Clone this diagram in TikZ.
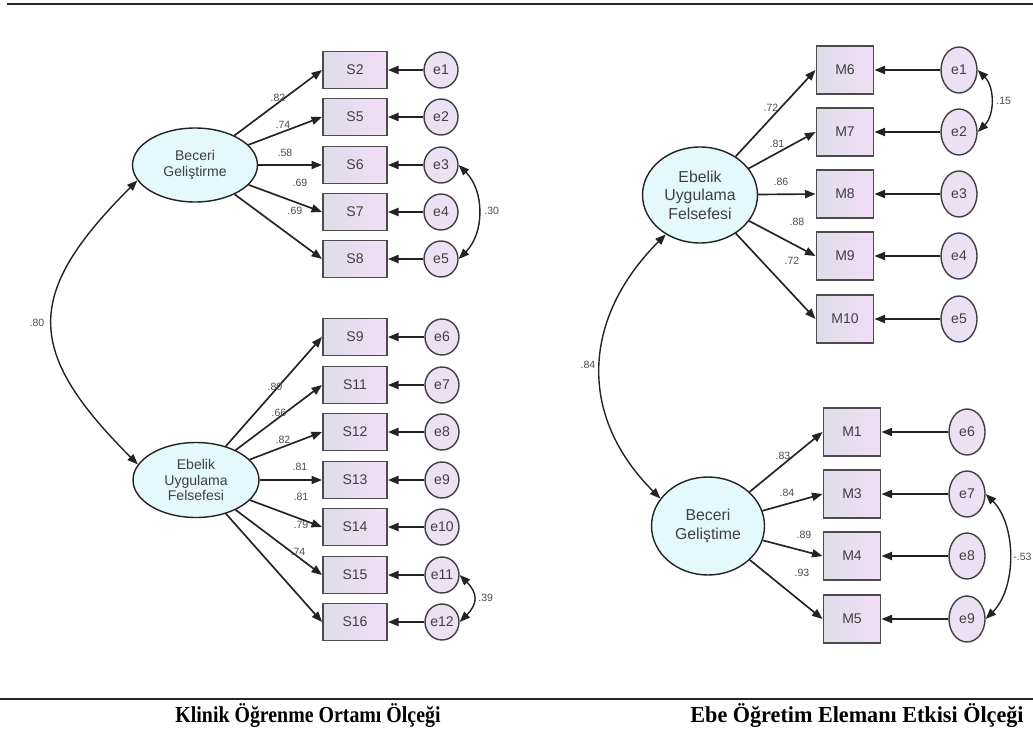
\documentclass[tikz,border=0pt]{standalone}
\usepackage{fontspec}
\setmainfont{Liberation Serif}
\setsansfont{Liberation Sans}
\usetikzlibrary{arrows.meta, shapes.geometric}

\definecolor{latentfill}{RGB}{228,249,252}
\definecolor{boxleft}{RGB}{222,221,232}
\definecolor{boxright}{RGB}{242,222,246}
\definecolor{errfill}{RGB}{236,224,243}
\definecolor{ink}{RGB}{35,35,35}

\begin{document}
\begin{tikzpicture}[
  x = 0.02cm, y = -0.02cm,
  >={Triangle[length = 6pt, width = 4.6pt]},
  latent/.style = {
    shape = ellipse,
    draw = ink,
    thick,
    fill = latentfill,
    inner sep = 0pt,
    align = center,
    font = \sffamily\fontsize{8}{9}\selectfont,
    text = black!75,
  },
  item/.style = {
    shape = rectangle,
    draw = black!70,
    line width = 1.1pt,
    left color = boxleft,
    right color = boxright,
    inner sep = 0pt,
    font = \sffamily\fontsize{8}{9}\selectfont,
    text = black!75,
  },
  err/.style = {
    shape = ellipse,
    draw = black!75,
    thick,
    fill = errfill,
    inner sep = 0pt,
    font = \sffamily\fontsize{8}{9}\selectfont,
    text = black!75,
  },
  coef/.style = {
    font = \sffamily\fontsize{6}{7}\selectfont,
    text = black!70,
    inner sep = 0pt,
  },
  caption/.style = {
    font = \bfseries\fontsize{13}{15}\selectfont,
    inner sep = 0pt,
  },
  load/.style = {->, draw = ink, line width = 0.95pt},
  cov/.style = {<->, draw = ink, line width = 0.8pt},
]
  \useasboundingbox (0, 0) rectangle (1033, 733);

  % rules above and below
  \draw[line width = 1.1pt, black!85] (7, 4) -- (1033, 4);
  \draw[line width = 1.1pt, black!85] (0, 699) -- (1033, 699);

  % --- Klinik Ogrenme Ortami Olcegi ---
  \node[latent, minimum width = 2.5cm, minimum height = 1.48cm]
    (becS) at (195, 165) {Beceri\\Geliştirme};
  \node[latent, minimum width = 2.52cm, minimum height = 1.5cm]
    (ebeS) at (196, 480) {Ebelik\\Uygulama\\Felsefesi};

  \begin{scope}[every node/.append style = {
      minimum width = 1.28cm, minimum height = 0.74cm}]
    \node[item] (S2)  at (355, 70)  {S2};
    \node[item] (S5)  at (355, 117) {S5};
    \node[item] (S6)  at (355, 165) {S6};
    \node[item] (S7)  at (355, 212) {S7};
    \node[item] (S8)  at (355, 259) {S8};
    \node[item] (S9)  at (355, 337) {S9};
    \node[item] (S11) at (355, 385) {S11};
    \node[item] (S12) at (355, 432) {S12};
    \node[item] (S13) at (355, 480) {S13};
    \node[item] (S14) at (355, 527) {S14};
    \node[item] (S15) at (355, 575) {S15};
    \node[item] (S16) at (355, 622) {S16};
  \end{scope}

  \begin{scope}[every node/.append style = {
      minimum width = 0.68cm, minimum height = 0.72cm}]
    \node[err] (eS1)  at (441, 70)  {e1};
    \node[err] (eS2)  at (441, 117) {e2};
    \node[err] (eS3)  at (441, 165) {e3};
    \node[err] (eS4)  at (441, 212) {e4};
    \node[err] (eS5)  at (441, 259) {e5};
    \node[err] (eS6)  at (442, 337) {e6};
    \node[err] (eS7)  at (442, 385) {e7};
    \node[err] (eS8)  at (442, 432) {e8};
    \node[err] (eS9)  at (442, 480) {e9};
    \node[err] (eS10) at (442, 527) {e10};
    \node[err] (eS11) at (442, 575) {e11};
    \node[err] (eS12) at (442, 622) {e12};
  \end{scope}

  \foreach \s in {2, 5, 6, 7, 8}
    \draw[load] (becS) -- (S\s.west);
  \foreach \s in {9, 11, 12, 13, 14, 15, 16}
    \draw[load] (ebeS) -- (S\s.west);
  \foreach \s/\e in {2/1, 5/2, 6/3, 7/4, 8/5, 9/6, 11/7, 12/8, 13/9,
      14/10, 15/11, 16/12}
    \draw[load] (eS\e) -- (S\s);

  \draw[cov] (becS.195) to[out = 225, in = 135, looseness = 1.45] (ebeS.165);
  \draw[cov] (eS3.east) to[out = -45, in = 45, looseness = 1.0] (eS5.east);
  \draw[cov] (eS11.east) to[out = -45, in = 45, looseness = 1.4] (eS12.east);

  \node[coef] (kSB)  at (37, 323)  {.80};
  \node[coef] (kS2)  at (278, 98)  {.82};
  \node[coef] (kS5)  at (283, 125) {.74};
  \node[coef] (kS6)  at (285, 153) {.58};
  \node[coef] (kS7)  at (300, 183) {.69};
  \node[coef] (kS8)  at (295, 211) {.69};
  \node[coef] (kS9)  at (275, 387) {.80};
  \node[coef] (kS11) at (279, 413) {.66};
  \node[coef] (kS12) at (283, 440) {.82};
  \node[coef] (kS13) at (300, 467) {.81};
  \node[coef] (kS14) at (301, 497) {.81};
  \node[coef] (kS15) at (301, 525) {.79};
  \node[coef] (kS16) at (298, 552) {.74};
  \node[coef, anchor = west] (kE35) at (484, 211) {.30};
  \node[coef, anchor = west] (kE11) at (478, 598) {.39};

  % --- Ebe Ogretim Elemani Etkisi Olcegi ---
  \node[latent, minimum width = 2.3cm, minimum height = 1.92cm,
    font = \sffamily\fontsize{9}{10.5}\selectfont]
    (ebeM) at (700, 195) {Ebelik\\Uygulama\\Felsefesi};
  \node[latent, minimum width = 2.26cm, minimum height = 1.96cm,
    font = \sffamily\fontsize{9}{10.5}\selectfont]
    (becM) at (708, 526) {Beceri\\Geliştime};

  \begin{scope}[every node/.append style = {
      minimum width = 1.14cm, minimum height = 0.96cm,
      font = \sffamily\fontsize{9}{10}\selectfont}]
    \node[item] (M6)  at (845, 70)  {M6};
    \node[item] (M7)  at (845, 132) {M7};
    \node[item] (M8)  at (845, 194) {M8};
    \node[item] (M9)  at (845, 256) {M9};
    \node[item] (M10) at (845, 319) {M10};
    \node[item] (M1)  at (852, 432) {M1};
    \node[item] (M3)  at (852, 494) {M3};
    \node[item] (M4)  at (852, 556) {M4};
    \node[item] (M5)  at (852, 619) {M5};
  \end{scope}

  \begin{scope}[every node/.append style = {
      minimum width = 0.72cm, minimum height = 0.92cm,
      font = \sffamily\fontsize{9}{10}\selectfont}]
    \node[err] (eM1) at (959, 70)  {e1};
    \node[err] (eM2) at (959, 132) {e2};
    \node[err] (eM3) at (959, 194) {e3};
    \node[err] (eM4) at (959, 256) {e4};
    \node[err] (eM5) at (959, 319) {e5};
    \node[err] (eM6) at (967, 432) {e6};
    \node[err] (eM7) at (967, 494) {e7};
    \node[err] (eM8) at (967, 556) {e8};
    \node[err] (eM9) at (967, 619) {e9};
  \end{scope}

  \foreach \m in {6, 7, 8, 9, 10}
    \draw[load] (ebeM) -- (M\m.west);
  \foreach \m in {1, 3, 4, 5}
    \draw[load] (becM) -- (M\m.west);
  \foreach \m/\e in {6/1, 7/2, 8/3, 9/4, 10/5, 1/6, 3/7, 4/8, 5/9}
    \draw[load] (eM\e) -- (M\m);

  \draw[cov] (ebeM.229) to[out = 225, in = 135, looseness = 1.14] (becM.150);
  \draw[cov] (eM1.east) to[out = -45, in = 45, looseness = 1.0] (eM2.east);
  \draw[cov] (eM7.east) to[out = -45, in = 45, looseness = 0.9] (eM9.east);

  \node[coef] (eMB)  at (588, 365) {.84};
  \node[coef] (eM6c) at (771, 108) {.72};
  \node[coef] (eM7c) at (777, 144) {.81};
  \node[coef] (eM8c) at (781, 182) {.86};
  \node[coef] (eM9c) at (797, 222) {.88};
  \node[coef] (eM10c) at (792, 261) {.72};
  \node[coef] (eM1c) at (783, 456) {.83};
  \node[coef] (eM3c) at (787, 493) {.84};
  \node[coef] (eM4c) at (804, 535) {.89};
  \node[coef] (eM5c) at (802, 573) {.93};
  \node[coef, anchor = west] (eE12) at (996, 101) {.15};
  \node[coef, anchor = west] (eE79) at (1013, 557) {-.53};

  % captions
  \node[caption] (capK) at (308, 716)
    {\scalebox{0.87}[1]{Klinik Öğrenme Ortamı Ölçeği}};
  \node[caption] (capE) at (857, 716)
    {\scalebox{0.97}[1]{Ebe Öğretim Elemanı Etkisi Ölçeği}};
\end{tikzpicture}
\end{document}
